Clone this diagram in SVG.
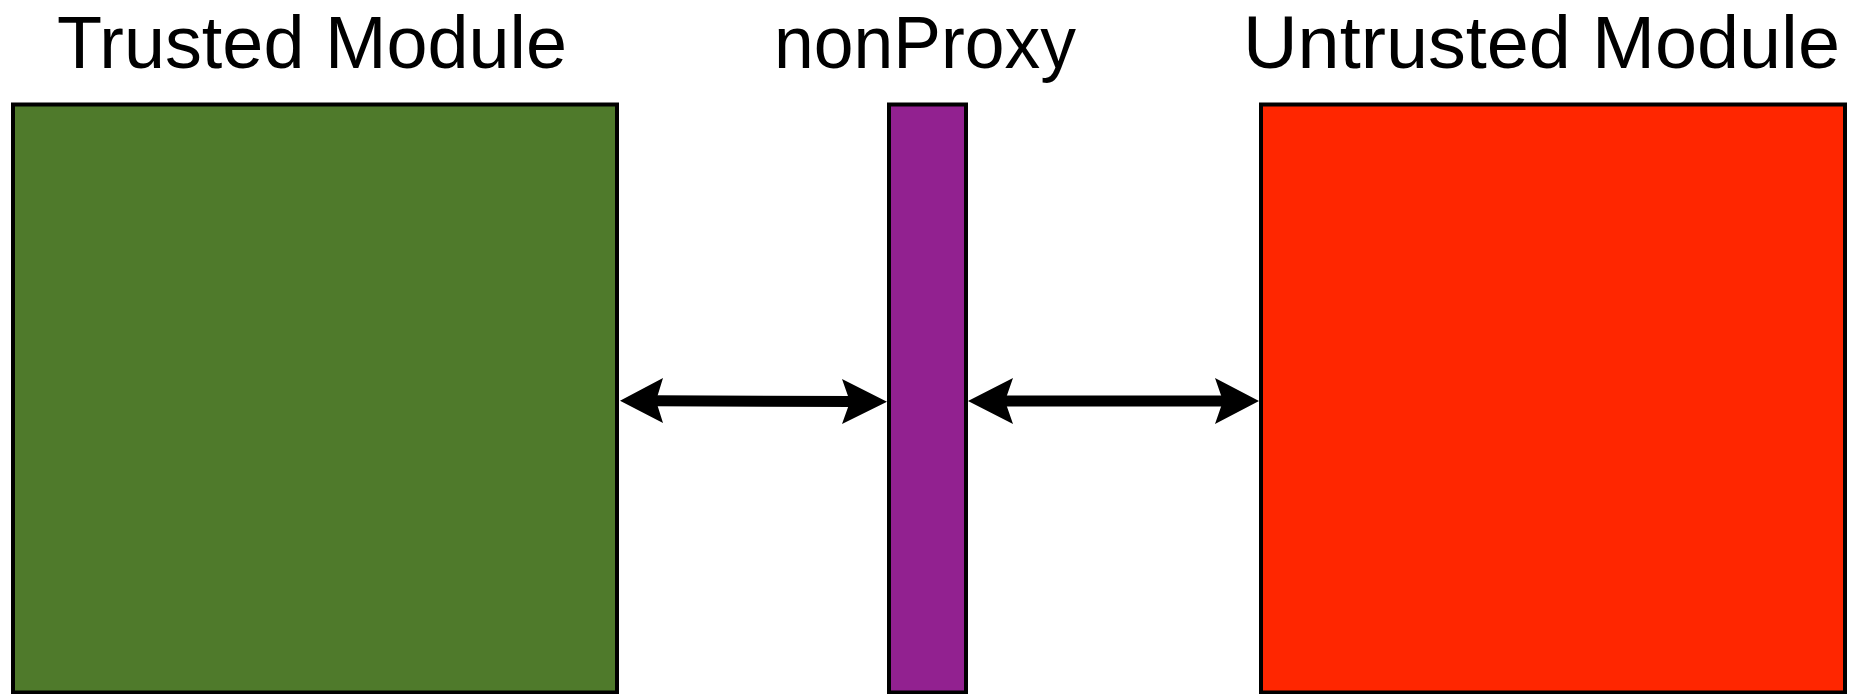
<svg xmlns="http://www.w3.org/2000/svg" width="1855" height="694" viewBox="0 0 1855 694">
  <style>
    .box { stroke: #000; stroke-width: 4; }
    .label { font-family: "Liberation Sans", Arial, sans-serif; font-size: 74px; fill: #000; }
    .shaft { stroke: #000; stroke-width: 11; fill: none; }
    .head { fill: #000; }
  </style>
  <rect width="1855" height="694" fill="#fff"/>
  <g id="trusted">
    <rect class="box" x="13" y="104.5" width="604" height="588" fill="#4F7A2B"/>
    <text class="label" x="57" y="67.5" textLength="510" lengthAdjust="spacingAndGlyphs">Trusted Module</text>
  </g>
  <g id="nonproxy">
    <rect class="box" x="889" y="104.5" width="77" height="588" fill="#922190"/>
    <text class="label" x="774" y="67.5" textLength="302" lengthAdjust="spacingAndGlyphs">nonProxy</text>
  </g>
  <g id="untrusted">
    <rect class="box" x="1261" y="104.5" width="584" height="588" fill="#FF2600"/>
    <text class="label" x="1243" y="67.5" textLength="597" lengthAdjust="spacingAndGlyphs">Untrusted Module</text>
  </g>
  <g id="connectors">
    <line class="shaft" x1="655" y1="400.7" x2="852" y2="401.5"/>
    <polygon class="head" points="620,400.7 663,378 656,400.7 663,423"/>
    <polygon class="head" points="887,401.7 842,379 850,401.7 842,424"/>
    <line class="shaft" x1="1003" y1="401" x2="1225" y2="401"/>
    <polygon class="head" points="968,401 1013,378 1005,401 1013,424"/>
    <polygon class="head" points="1259,401 1215,378 1223,401 1215,424"/>
  </g>
</svg>
